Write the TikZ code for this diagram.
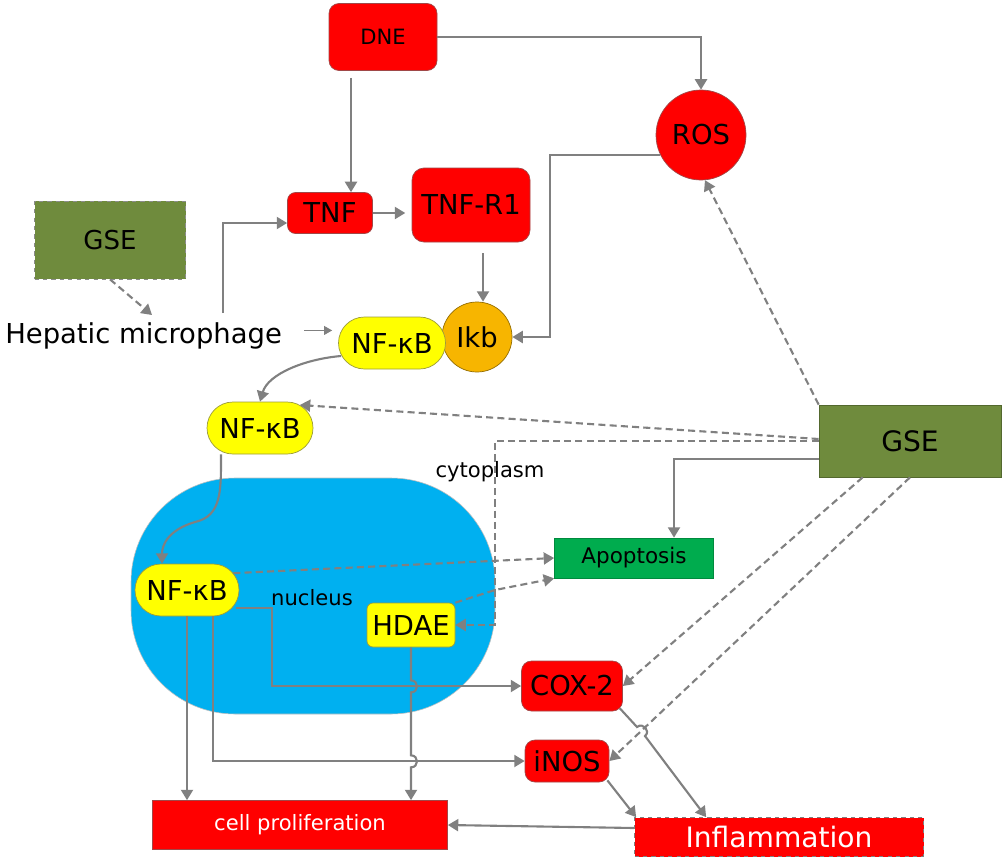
\documentclass[tikz,border=0pt]{standalone}
\usepackage{fontspec}
\setmainfont{DejaVu Sans}
\usetikzlibrary{arrows.meta,calc,shapes.misc}

\definecolor{linegray}{HTML}{808080}
\definecolor{boxred}{HTML}{FF0000}
\definecolor{redline}{HTML}{A04848}
\definecolor{pillyellow}{HTML}{FFFF00}
\definecolor{pillline}{HTML}{9C9C3A}
\definecolor{ikborange}{HTML}{F7B500}
\definecolor{gseolive}{HTML}{6F8B3D}
\definecolor{apopgreen}{HTML}{00AC4E}
\definecolor{nucblue}{HTML}{00B0F0}

\newcommand\pxu{0.025cm}

\begin{document}
\begin{tikzpicture}[
  x=0.025cm, y=-0.025cm,
  >={Triangle[length=2.6mm,width=3mm]},
  boxsize/.style 2 args={minimum width=#1*\pxu, minimum height=#2*\pxu},
  txt/.style={font=\fontsize{19.5}{22}\selectfont, inner sep=0pt},
  redbox/.style={txt, draw=redline, fill=boxred, line width=0.5pt, rounded corners=0.2cm},
  redplain/.style={txt, draw=redline, fill=boxred, line width=0.5pt, text=white},
  pill/.style={txt, rounded rectangle, draw=pillline, fill=pillyellow, line width=0.5pt},
  gsebox/.style={txt, draw=gseolive!75!black, fill=gseolive, line width=0.5pt},
  arr/.style={->, draw=linegray, line width=1.5pt},
  darr/.style={arr, dash pattern=on 5pt off 3pt},
  thinarr/.style={-{Triangle[length=2mm,width=2.2mm]}, draw=linegray, line width=0.8pt},
]
\useasboundingbox (0,0) rectangle (1004,861);
\fill[white] (0,0) rectangle (1004,861);

% nucleus
\node[boxsize={364}{236}, fill=nucblue, draw=black!25, line width=0.4pt,
      rounded corners=2.6cm] (nucleus) at (313,596) {};
\node[txt, font=\fontsize{15}{18}\selectfont] (nuclab) at (312,598) {nucleus};
\node[txt, font=\fontsize{15}{18}\selectfont] (cytolab) at (490,472) {cytoplasm};

% top part
\node[redbox, boxsize={108}{67}, rounded corners=0.25cm,
      font=\fontsize{15}{18}\selectfont] (dne) at (383,37) {DNE};
\node[txt, circle, draw=redline, fill=boxred, line width=0.5pt,
      minimum size=90*\pxu] (ros) at (701,135) {ROS};
\node[redbox, boxsize={85}{41}] (tnf) at (330,213) {TNF};
\node[redbox, boxsize={118}{74}, rounded corners=0.3cm] (tnfr1) at (471,205) {TNF-R1};
\node[gsebox, dashed, draw=black!45, boxsize={151}{78}, font=\fontsize{18.5}{22}\selectfont]
     (gsel) at (110,240) {GSE};
\node[txt, anchor=base west] (hep) at (5,343) {Hepatic microphage};
\node[txt, circle, draw=ikborange!60!black, fill=ikborange, line width=0.5pt,
      minimum size=70*\pxu] (ikb) at (477,337) {Ikb};
\node[pill, boxsize={107}{52}] (nf1) at (392,343) {NF-κB};
\node[pill, boxsize={106}{52}] (nf2) at (260,428) {NF-κB};

% right and nucleus part
\node[gsebox, boxsize={182}{72}, font=\fontsize{20}{22}\selectfont] (gser) at (910,441) {GSE};
\node[pill, boxsize={104}{52}] (nf3) at (187,590) {NF-κB};
\node[txt, rounded corners=0.15cm, draw=pillline, fill=pillyellow, line width=0.5pt,
      boxsize={88}{44}] (hdae) at (411,625) {HDAE};
\node[txt, draw=apopgreen!80!black, fill=apopgreen, line width=0.5pt,
      boxsize={159}{40}, font=\fontsize{15.3}{18}\selectfont] (apop) at (634,558) {Apoptosis};

% bottom part
\node[redbox, boxsize={101}{50}, rounded corners=0.25cm] (cox) at (572,686) {COX-2};
\node[redbox, boxsize={84}{42}, rounded corners=0.25cm] (inos) at (567,761) {iNOS};
\node[redplain, boxsize={295}{49}, font=\fontsize{15}{18}\selectfont]
     (cellp) at (300,825) {cell proliferation};
\node[redplain, dashed, draw=linegray, boxsize={289}{39}, font=\fontsize{20}{22}\selectfont]
     (inflam) at (779,837) {Inflammation};

% solid connectors
\draw[arr] (dne.east) -| (ros.north);
\draw[arr] ($(dne.south)+(-32,7)$) -- ($(tnf.north)+(21,0)$);
\draw[arr, shorten >=1.6mm] (tnf.east) -- (tnfr1.west |- tnf.east);
\coordinate (hepup) at (223,313);
\draw[arr] (hepup) |- ($(tnf.west)+(0,10)$);
\draw[arr] ($(tnfr1.south)+(12,11)$) coordinate (t1) -- (t1 |- ikb.north);
\draw[arr] (ros.206) -- ++(-110,0) |- (ikb.east);
\draw[thinarr] ($(hep.east)+(22,-5)$) coordinate (h1) -- ($(h1 -| nf1.west)+(-6,0)$);
\draw[arr] ($(nf1.west)+(3,13)$) .. controls (305,359) and (268,374) .. (nf2.north);
\draw[arr] ($(nf2.south)+(-39,0)$) .. controls (221,490) and (222,516) .. (195,522)
  .. controls (168,530) and (162,545) .. ($(nf3.north)+(-25,0)$);
\draw[arr] ($(gser.west)+(0,18)$) -| ($(apop.north)+(40,0)$);
\draw[arr] (nf3.south) -- (nf3.south |- cellp.north);
\draw[arr] ($(nf3.south)+(26,0)$) |- (inos.west);
\draw[arr] ($(nf3.east)+(-3,18)$) -- ++(36,0) |- (cox.west);
\draw[arr] (hdae.south) -- ++(0,33) .. controls +(8,0) and +(8,0) .. ++(0,12)
  -- ++(0,63) .. controls +(8,0) and +(8,0) .. ++(0,12) -- (hdae.south |- cellp.north);
\draw[arr] ($(cox.south east)+(-3,-3)$) -- (637,727) .. controls +(6,-5) and +(6,-5) .. (645,736)
  -- ($(inflam.north west)+(72,0)$);
\draw[arr] ($(inos.south east)+(-2,-2)$) -- ($(inflam.north west)+(2,0)$);
\draw[arr] ($(inflam.west)+(0,-9)$) -- (cellp.east);

% dashed connectors
\draw[darr] (gsel.south) -- (152,315);
\draw[darr] ($(gser.west)+(0,-2)$) -- (nf2.30);
\draw[darr] (gser.west) -- ++(-324,0) |- (hdae.east);
\draw[darr] (gser.north west) -- (ros.-85);
\draw[darr] ($(gser.south west)+(44,0)$) -- (cox.east);
\draw[darr] (gser.south) -- (inos.east);
\draw[darr] (nf3.20) -- (apop.west);
\draw[darr] (hdae.north east) -- (495,590) -- (apop.south west);
\end{tikzpicture}
\end{document}
